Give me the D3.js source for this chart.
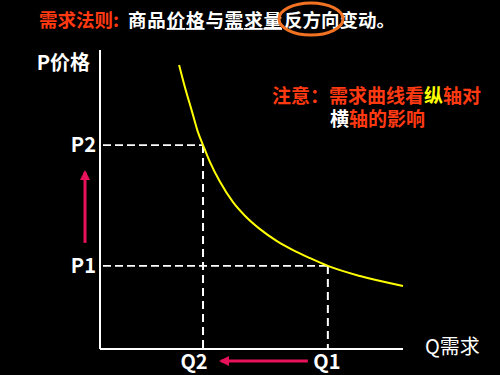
<!DOCTYPE html>
<html>
<head>
<meta charset="utf-8">
<script src="https://cdn.jsdelivr.net/npm/d3@7"></script>
<style>
  body { margin: 0; background: #000; }
  svg { display: block; background: #000; }
  text { font-family: "Noto Sans CJK SC", "Noto Sans", sans-serif; }
</style>
</head>
<body>
<svg class="chart" width="500" height="375"></svg>
<script>
// demand curve (quantity / price, arbitrary units 0..10)
var curveQ = [2.61, 2.81, 3.04, 3.23, 3.40, 3.63, 3.96, 4.39, 4.79, 5.28, 5.84, 6.37, 6.93, 7.52, 8.58, 10.0];
var curveP = [9.50, 8.73, 7.93, 7.26, 6.82, 6.25, 5.59, 4.91, 4.45, 4.01, 3.61, 3.31, 3.04, 2.78, 2.44, 2.11];

var priceTicks = [{label: "P2", value: 6.82}, {label: "P1", value: 2.78}];
var qtyTicks = [{label: "Q2", value: 3.40}, {label: "Q1", value: 7.52}];

var yAxisTitle = "P价格";
var xAxisTitle = "Q需求";

var red = "#ff3a12";
var arrowColor = "#e8125a";

var margin = {top: 50, right: 97, bottom: 26, left: 100};
var width = 500 - margin.left - margin.right;
var height = 375 - margin.top - margin.bottom;

var x = d3.scaleLinear().domain([0, 10]).range([0, width]);
var y = d3.scaleLinear().domain([0, 10]).range([height, 0]);

var svg = d3.select(".chart");

svg.append("defs").append("marker")
  .attr("id", "head")
  .attr("viewBox", "0 0 10 10")
  .attr("refX", 8)
  .attr("refY", 5)
  .attr("markerWidth", 3.4)
  .attr("markerHeight", 3.4)
  .attr("orient", "auto")
  .append("path")
  .attr("d", "M0,0 L10,5 L0,10 z")
  .style("fill", arrowColor);

// title line
svg.append("text")
  .attr("x", 39)
  .attr("y", 27)
  .style("font-size", "18.5px")
  .style("font-weight", "bold")
  .style("fill", red)
  .text("需求法则:");

var title = svg.append("text")
  .attr("x", 128)
  .attr("y", 27)
  .attr("textLength", 154)
  .attr("lengthAdjust", "spacing")
  .style("font-size", "18.5px")
  .style("font-weight", "bold")
  .style("fill", "#fff");
title.append("tspan").text("商品");
title.append("tspan").style("text-decoration", "underline").text("价格");
title.append("tspan").text("与");
title.append("tspan").style("text-decoration", "underline").text("需求量");

svg.append("text")
  .attr("x", 284)
  .attr("y", 27)
  .style("font-size", "18.5px")
  .style("font-weight", "bold")
  .style("fill", "#fff")
  .text("反方向变动。");

svg.append("ellipse")
  .attr("cx", 311)
  .attr("cy", 19)
  .attr("rx", 32)
  .attr("ry", 16)
  .style("fill", "none")
  .style("stroke", "#f07222")
  .style("stroke-width", 3);

// note
var note1 = svg.append("text")
  .attr("x", 272)
  .attr("y", 103)
  .style("font-size", "19px")
  .style("font-weight", "bold");
note1.append("tspan").style("fill", red).text("注意：需求曲线看");
note1.append("tspan").style("fill", "#ffff00").text("纵");
note1.append("tspan").style("fill", red).text("轴对");

var note2 = svg.append("text")
  .attr("x", 330)
  .attr("y", 126)
  .style("font-size", "19px")
  .style("font-weight", "bold");
note2.append("tspan").style("fill", "#fff").text("横");
note2.append("tspan").style("fill", red).text("轴的影响");

var chart = svg.append("g")
  .attr("transform", "translate(" + margin.left + "," + margin.top + ")");

// dashed guides
var guides = d3.zip(priceTicks, qtyTicks);

chart.selectAll(".hguide")
  .data(guides)
  .enter().append("line")
  .attr("x1", 3)
  .attr("x2", function(d) { return x(d[1].value); })
  .attr("y1", function(d) { return y(d[0].value); })
  .attr("y2", function(d) { return y(d[0].value); })
  .style("stroke", "#fff")
  .style("stroke-width", 1.6)
  .style("stroke-dasharray", "8,4");

chart.selectAll(".vguide")
  .data(guides)
  .enter().append("line")
  .attr("x1", function(d) { return x(d[1].value); })
  .attr("x2", function(d) { return x(d[1].value); })
  .attr("y1", function(d) { return y(d[0].value); })
  .attr("y2", height)
  .style("stroke", "#fff")
  .style("stroke-width", 2)
  .style("stroke-dasharray", "8,5");

// axes
chart.append("line")
  .attr("x1", 0).attr("x2", 0)
  .attr("y1", 0).attr("y2", height)
  .style("stroke", "#fff")
  .style("stroke-width", 2);

chart.append("line")
  .attr("x1", 0).attr("x2", width)
  .attr("y1", height).attr("y2", height)
  .style("stroke", "#fff")
  .style("stroke-width", 2);

// demand curve
var line = d3.line()
  .x(function(d) { return x(d[0]); })
  .y(function(d) { return y(d[1]); })
  .curve(d3.curveMonotoneX);

chart.append("path")
  .datum(d3.zip(curveQ, curveP))
  .attr("d", line)
  .style("fill", "none")
  .style("stroke", "#ffff00")
  .style("stroke-width", 2);

// tick labels
chart.selectAll(".plabel")
  .data(priceTicks)
  .enter().append("text")
  .attr("x", -4)
  .attr("y", function(d) { return y(d.value) + 7; })
  .attr("text-anchor", "end")
  .style("fill", "#fff")
  .style("font-size", "20px")
  .style("font-weight", "bold")
  .text(function(d) { return d.label; });

chart.selectAll(".qlabel")
  .data(qtyTicks)
  .enter().append("text")
  .attr("x", function(d, i) { return x(d.value) - (i === 0 ? 9 : 1); })
  .attr("y", height + 20)
  .attr("text-anchor", "middle")
  .style("fill", "#fff")
  .style("font-size", "20px")
  .style("font-weight", "bold")
  .text(function(d) { return d.label; });

// axis titles
chart.append("text")
  .attr("x", -10)
  .attr("y", 20)
  .attr("text-anchor", "end")
  .style("fill", "#fff")
  .style("font-size", "20px")
  .style("font-weight", "bold")
  .text(yAxisTitle);

chart.append("text")
  .attr("x", width + 22)
  .attr("y", height + 5)
  .style("fill", "#fff")
  .style("font-size", "20px")
  .text(xAxisTitle);

// movement arrows
chart.append("line")
  .attr("x1", -15).attr("x2", -15)
  .attr("y1", y(priceTicks[1].value) - 23)
  .attr("y2", y(priceTicks[0].value) + 27)
  .attr("marker-end", "url(#head)")
  .style("stroke", arrowColor)
  .style("stroke-width", 3);

chart.append("line")
  .attr("x1", x(qtyTicks[1].value) - 20)
  .attr("x2", x(qtyTicks[0].value) + 18)
  .attr("y1", height + 12).attr("y2", height + 12)
  .attr("marker-end", "url(#head)")
  .style("stroke", arrowColor)
  .style("stroke-width", 3);
</script>
</body>
</html>
